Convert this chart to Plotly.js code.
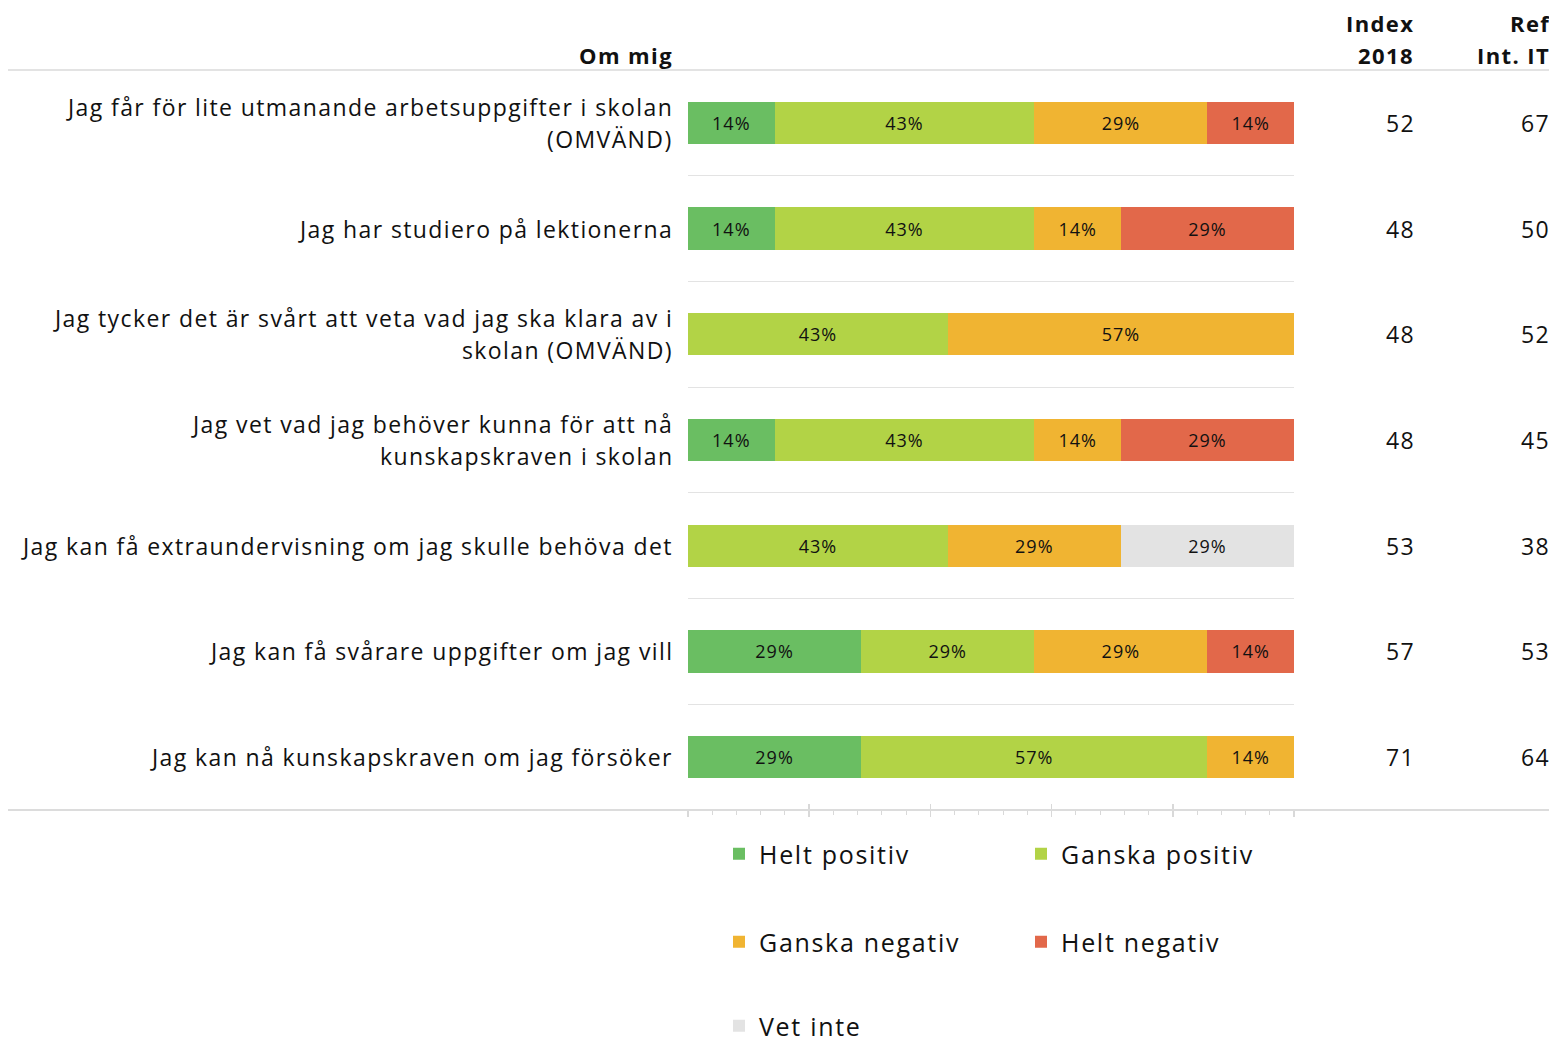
<!DOCTYPE html>
<html>
<head>
<meta charset="utf-8">
<script src="https://cdn.plot.ly/plotly-3.0.1.min.js"></script>
<style>
html,body{margin:0;padding:0;background:#fff;}
#chart{width:1549px;height:1041px;}
.annotation-text{letter-spacing:1.4px;}
.bartext{letter-spacing:1px;}
.legendtext, g[class^="legend"] text{letter-spacing:1.7px;}
</style>
</head>
<body>
<div id="chart"></div>
<script>
// ---- data ----
const questions = [
  "Jag får för lite utmanande arbetsuppgifter i skolan<br>(OMVÄND)",
  "Jag har studiero på lektionerna",
  "Jag tycker det är svårt att veta vad jag ska klara av i<br>skolan (OMVÄND)",
  "Jag vet vad jag behöver kunna för att nå<br>kunskapskraven i skolan",
  "Jag kan få extraundervisning om jag skulle behöva det",
  "Jag kan få svårare uppgifter om jag vill",
  "Jag kan nå kunskapskraven om jag försöker"
];
const seriesNames = ["Helt positiv", "Ganska positiv", "Ganska negativ", "Helt negativ", "Vet inte"];
const heltPositiv    = [14.29, 14.29, null, 14.29, null, 28.57, 28.57];
const ganskaPositiv  = [42.86, 42.86, 42.86, 42.86, 42.86, 28.57, 57.14];
const ganskaNegativ  = [28.57, 14.29, 57.14, 14.29, 28.57, 28.57, 14.29];
const heltNegativ    = [14.29, 28.57, null, 28.57, null, 14.29, null];
const vetInte        = [null, null, null, null, 28.57, null, null];
const index2018      = [52, 48, 48, 48, 53, 57, 71];
const refIntIT       = [67, 50, 52, 45, 38, 53, 64];
const headerTitle    = "Om mig";
const colHeaders     = [["Index", "2018"], ["Ref", "Int. IT"]];

// ---- styling ----
const colors = ["#6ABE62", "#B2D346", "#F0B432", "#E2684A", "#E3E3E3"];
const FONT = "Open Sans, Noto Sans, sans-serif";
const W = 1549, H = 1041;
const mL = 688, mR = 255, mT = 70, mB = 231;
const plotW = W - mL - mR, plotH = H - mT - mB;
const px2x = p => (p - mL) / plotW;
const py2y = p => (H - mB - p) / plotH;
const LBL = 23;

const rows = questions.map((_, i) => i);
const allSeries = [heltPositiv, ganskaPositiv, ganskaNegativ, heltNegativ, vetInte];
const legendIds = ["legend", "legend2", "legend3", "legend4", "legend5"];

const traces = allSeries.map((vals, k) => ({
  type: "bar",
  orientation: "h",
  name: seriesNames[k],
  x: vals,
  y: rows,
  width: 0.4,
  marker: {color: colors[k], line: {width: 0}},
  texttemplate: "%{x:.0f}%",
  textposition: "inside",
  insidetextanchor: "middle",
  textangle: 0,
  textfont: {family: FONT, size: 18, color: "#111"},
  hoverinfo: "skip",
  legend: legendIds[k]
}));
// helper trace to draw upward major ticks on the axis
traces.push({
  type: "scatter", x: [0, 100], y: [0, 0], xaxis: "x2", mode: "markers",
  marker: {opacity: 0}, showlegend: false, hoverinfo: "skip"
});

const annotations = [];
questions.forEach((q, i) => {
  const lines = q.split("<br>");
  const n = lines.length;
  lines.forEach((ln, j) => {
    annotations.push({
      x: px2x(675), xref: "paper", xanchor: "right",
      y: i + (j - (n - 1) / 2) * 0.302, yref: "y", yanchor: "middle",
      text: ln, showarrow: false,
      font: {family: FONT, size: LBL, color: "#111"}
    });
  });
  annotations.push({
    x: px2x(1417), xref: "paper", xanchor: "right", y: i, yref: "y", yanchor: "middle",
    text: String(index2018[i]), showarrow: false, font: {family: FONT, size: LBL, color: "#111"}
  });
  annotations.push({
    x: px2x(1552), xref: "paper", xanchor: "right", y: i, yref: "y", yanchor: "middle",
    text: String(refIntIT[i]), showarrow: false, font: {family: FONT, size: LBL, color: "#111"}
  });
});
annotations.push({
  x: px2x(675), xref: "paper", xanchor: "right", y: py2y(55), yref: "paper", yanchor: "middle",
  text: "<b>" + headerTitle + "</b>", showarrow: false, font: {family: FONT, size: 22, color: "#111"}
});
[[1416, colHeaders[0]], [1552, colHeaders[1]]].forEach(([px, hd]) => {
  annotations.push({
    x: px2x(px), xref: "paper", xanchor: "right", y: py2y(23), yref: "paper", yanchor: "middle",
    text: "<b>" + hd[0] + "</b>", showarrow: false, font: {family: FONT, size: 22, color: "#111"}
  });
  annotations.push({
    x: px2x(px), xref: "paper", xanchor: "right", y: py2y(55), yref: "paper", yanchor: "middle",
    text: "<b>" + hd[1] + "</b>", showarrow: false, font: {family: FONT, size: 22, color: "#111"}
  });
});

const legendPos = [[719, 854], [1021, 854], [719, 942], [1021, 942], [719, 1026]];
const layout = {
  width: W, height: H,
  margin: {l: mL, r: mR, t: mT, b: mB, pad: 0, autoexpand: false},
  paper_bgcolor: "#fff", plot_bgcolor: "#fff",
  barmode: "stack",
  bargap: 0,
  font: {family: FONT, color: "#111"},
  xaxis: {
    range: [0, 100], showgrid: false, zeroline: false, showline: false,
    showticklabels: false, ticks: "outside", ticklen: 6, tickwidth: 1.5, tickcolor: "#D9D9D9",
    tick0: 0, dtick: 20,
    minor: {dtick: 4, tick0: 0, ticks: "outside", ticklen: 4, tickwidth: 1, tickcolor: "#D9D9D9", showgrid: false},
    fixedrange: true
  },
  xaxis2: {
    overlaying: "x", anchor: "y", side: "bottom", range: [0, 100],
    showgrid: false, zeroline: false, showline: false, showticklabels: false,
    ticks: "inside", ticklen: 6, tickwidth: 1.5, tickcolor: "#D9D9D9", tick0: 0, dtick: 20
  },
  yaxis: {
    range: [6.5, -0.5], showticklabels: false, ticks: "", zeroline: false, showline: false,
    tickmode: "linear", tick0: 0.5, dtick: 1, showgrid: true, gridcolor: "#E3E3E3", gridwidth: 1,
    fixedrange: true
  },
  shapes: [
    {type: "line", xref: "paper", yref: "paper", x0: px2x(8), x1: px2x(1549), y0: 1, y1: 1,
     line: {color: "#E3E3E3", width: 2}},
    {type: "line", xref: "paper", yref: "paper", x0: px2x(8), x1: px2x(1549), y0: 0, y1: 0,
     line: {color: "#DCDCDC", width: 2}}
  ],
  annotations: annotations
};
legendIds.forEach((id, k) => {
  layout[id] = {
    x: px2x(legendPos[k][0]), xanchor: "left",
    y: py2y(legendPos[k][1]), yanchor: "middle",
    orientation: "h", bgcolor: "rgba(0,0,0,0)", borderwidth: 0,
    entrywidth: 260, entrywidthmode: "pixels",
    font: {family: FONT, size: 25, color: "#111"},
    itemclick: false, itemdoubleclick: false
  };
});

Plotly.newPlot("chart", traces, layout, {displayModeBar: false, staticPlot: true});
</script>
</body>
</html>
